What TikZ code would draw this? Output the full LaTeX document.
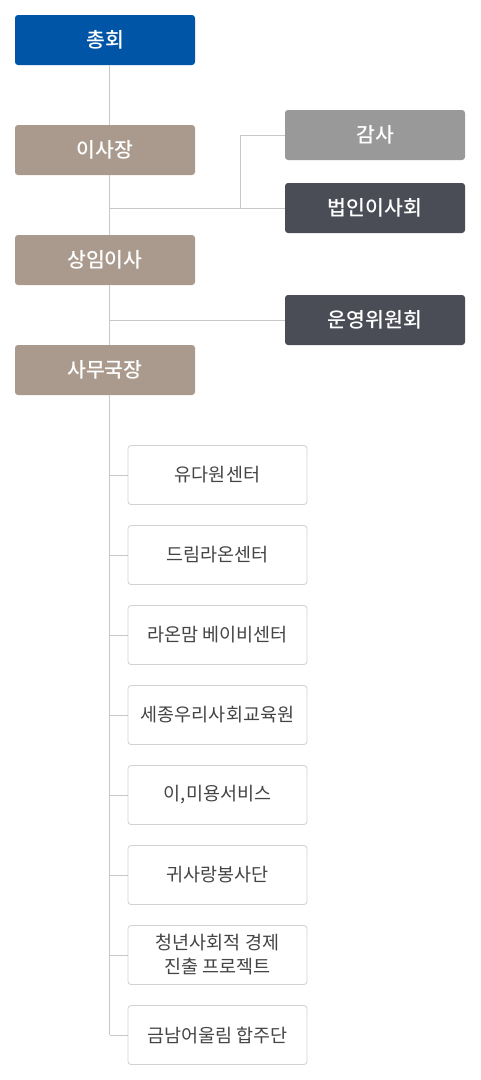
\documentclass[tikz,border=0pt]{standalone}
\usepackage{fontspec}
\setmainfont{Noto Sans CJK KR}[BoldFont={Noto Sans CJK KR Medium}]
\definecolor{gaBlue}{HTML}{0055A6}
\definecolor{chiefBrown}{HTML}{AA9A8D}
\definecolor{auditGray}{HTML}{999999}
\definecolor{boardDark}{HTML}{4A4D55}
\definecolor{linkGray}{HTML}{C8C8C8}
\definecolor{unitEdge}{HTML}{D2D2D2}
\definecolor{unitText}{HTML}{444444}
\tikzset{
  box/.style={rounded corners=3pt, minimum width=180pt, minimum height=50pt,
    text=white, font=\fontsize{20.5}{24}\selectfont\bfseries, inner sep=0pt},
  gabox/.style={box, fill=gaBlue},
  chiefbox/.style={box, fill=chiefBrown},
  auditbox/.style={box, fill=auditGray},
  boardbox/.style={box, fill=boardDark},
  unitbox/.style={rounded corners=3pt, draw=unitEdge, line width=0.8pt, fill=white,
    minimum width=179pt, minimum height=59pt, text=unitText, align=center,
    font=\fontsize{18.5}{24}\selectfont, inner sep=0pt},
  link/.style={draw=linkGray, line width=1pt}
}
\begin{document}
\begin{tikzpicture}[x=1pt,y=-1pt]
\useasboundingbox (0,0) rectangle (480,1080);
\node[gabox] (GA) at (105,40) {총회};
\node[chiefbox] (CH) at (105,150) {이사장};
\node[chiefbox] (SM) at (105,260) {상임이사};
\node[chiefbox] (SG) at (105,370) {사무국장};
\node[auditbox] (AU) at (375,135) {감사};
\node[boardbox] (BD) at (375,208) {법인이사회};
\node[boardbox] (OC) at (375,320) {운영위원회};
\coordinate (tEnd) at (109.5,1035);
\coordinate (jBD) at (109.5,208);
\coordinate (jAU) at (240,208);
\coordinate (jOC) at (109.5,320);
\node[unitbox] (U1) at (217.5,475) {유다원센터};
\node[unitbox] (U2) at (217.5,555) {드림라온센터};
\node[unitbox] (U3) at (217.5,635) {라온맘 베이비센터};
\node[unitbox] (U4) at (217.5,715) {세종우리사회교육원};
\node[unitbox] (U5) at (217.5,795) {이,미용서비스};
\node[unitbox] (U6) at (217.5,875) {귀사랑봉사단};
\node[unitbox] (U7) at (217.5,955) {청년사회적 경제\\진출 프로젝트};
\node[unitbox] (U8) at (217.5,1035) {금남어울림 합주단};
\draw[link] (GA.south -| tEnd) -- (CH.north -| tEnd);
\draw[link] (CH.south -| tEnd) -- (SM.north -| tEnd);
\draw[link] (SM.south -| tEnd) -- (SG.north -| tEnd);
\draw[link] (SG.south -| tEnd) -- (tEnd);
\draw[link] (jBD) -- (BD.west);
\draw[link] (AU.west) -| (jAU);
\draw[link] (jOC) -- (OC.west);
\foreach \u in {U1,U2,U3,U4,U5,U6,U7,U8}
  \draw[link] (\u.west -| tEnd) -- (\u.west);
\end{tikzpicture}
\end{document}
